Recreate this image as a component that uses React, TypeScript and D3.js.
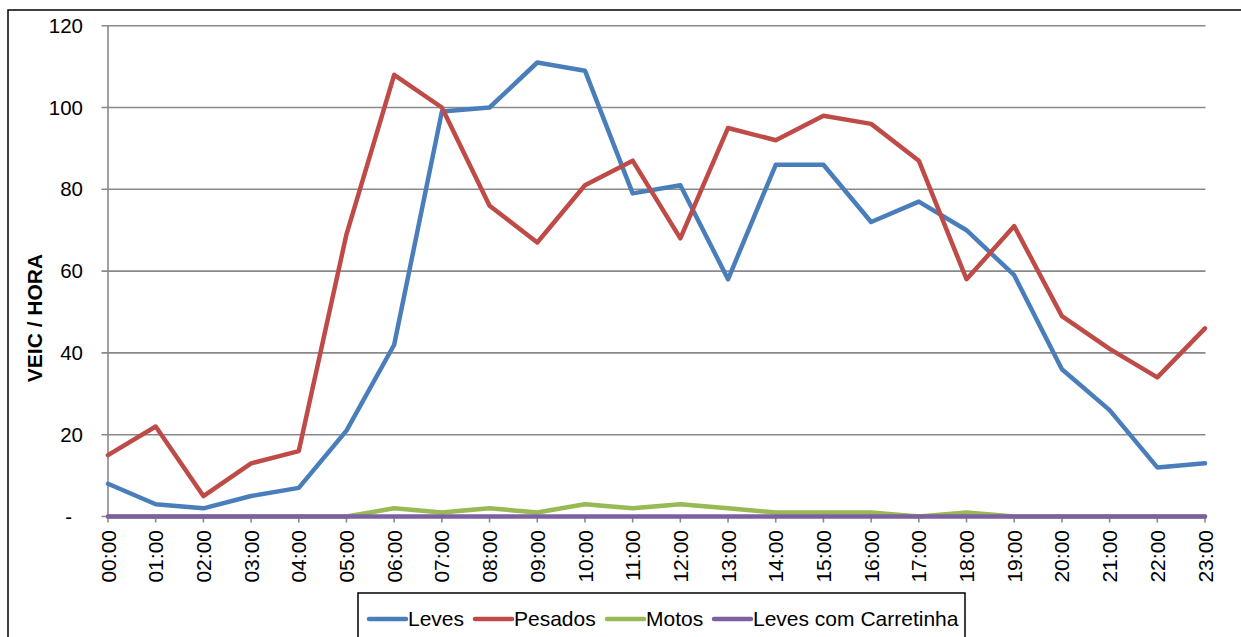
import React from 'react';
import * as d3 from 'd3';

// hourly counts
const hours = ['00:00', '01:00', '02:00', '03:00', '04:00', '05:00', '06:00', '07:00', '08:00', '09:00', '10:00', '11:00',
  '12:00', '13:00', '14:00', '15:00', '16:00', '17:00', '18:00', '19:00', '20:00', '21:00', '22:00', '23:00'];
const leves = [8, 3, 2, 5, 7, 21, 42, 99, 100, 111, 109, 79, 81, 58, 86, 86, 72, 77, 70, 59, 36, 26, 12, 13];
const pesados = [15, 22, 5, 13, 16, 69, 108, 100, 76, 67, 81, 87, 68, 95, 92, 98, 96, 87, 58, 71, 49, 41, 34, 46];
const motos = [0, 0, 0, 0, 0, 0, 2, 1, 2, 1, 3, 2, 3, 2, 1, 1, 1, 0, 1, 0, 0, 0, 0, 0];
const carretinha = [0, 0, 0, 0, 0, 0, 0, 0, 0, 0, 0, 0, 0, 0, 0, 0, 0, 0, 0, 0, 0, 0, 0, 0];
const yTicks = [0, 20, 40, 60, 80, 100, 120];

const series = [
  { name: 'Leves', values: leves, color: '#4a7ebb' },
  { name: 'Pesados', values: pesados, color: '#be4b48' },
  { name: 'Motos', values: motos, color: '#98b954' },
  { name: 'Leves com Carretinha', values: carretinha, color: '#7d60a0' },
];

const W = 1241;
const H = 637;
const FONT = '"Liberation Sans", Arial, sans-serif';
const GRID = '#898989';

export default function App() {
  const x = d3.scalePoint<string>().domain(hours).range([108, 1205]);
  const y = d3.scaleLinear().domain([0, 120]).range([516.5, 25.7]);

  const line = d3.line<number>()
    .x((_, i) => x(hours[i]) as number)
    .y(d => y(d));

  // legend item offsets (layout only)
  const legendX = [369, 475, 607, 714];

  return (
    <svg width={W} height={H} style={{ position: 'absolute', left: 0, top: 0, background: '#fff' }} fontFamily={FONT}>
      <rect x={8} y={10} width={W + 10} height={H + 10} fill="#fff" stroke="#000" strokeWidth={1.5} />

      {/* gridlines + y labels */}
      {yTicks.map(t => (
        <g key={t}>
          {t > 0 && <line x1={101.5} x2={1205.5} y1={y(t)} y2={y(t)} stroke={GRID} strokeWidth={1.6} />}
          <text x={t === 0 ? 72 : 83} y={y(t)} dy="0.35em" textAnchor="end" fontSize={20.5} fill="#000">
            {t === 0 ? '-' : t}
          </text>
        </g>
      ))}

      {/* axes */}
      <line x1={108} x2={108} y1={y(120)} y2={y(0)} stroke={GRID} strokeWidth={1.6} />
      <line x1={101.5} x2={1205.5} y1={y(0)} y2={y(0)} stroke={GRID} strokeWidth={1.6} />
      {hours.map(h => (
        <g key={h}>
          <line x1={x(h)} x2={x(h)} y1={y(0)} y2={y(0) + 6} stroke={GRID} strokeWidth={1.6} />
          <text transform={`translate(${x(h)},530) rotate(-90)`} dy="0.36em" textAnchor="end" fontSize={21} fill="#000">{h}</text>
        </g>
      ))}

      <text transform="translate(35,318) rotate(-90)" dy="0.35em" textAnchor="middle" fontSize={21} fontWeight="bold" fill="#000">
        VEIC / HORA
      </text>

      {/* series */}
      {series.map(s => (
        <path key={s.name} d={line(s.values) || ''} fill="none" stroke={s.color} strokeWidth={4.5}
          strokeLinejoin="round" strokeLinecap="round" />
      ))}

      {/* legend */}
      <rect x={358} y={593} width={607} height={60} fill="#fff" stroke="#000" strokeWidth={1.5} />
      {series.map((s, i) => (
        <g key={s.name} transform={`translate(${legendX[i]},619)`}>
          <line x1={0} x2={37} y1={0} y2={0} stroke={s.color} strokeWidth={4.5} strokeLinecap="round" />
          <text x={39} y={0} dy="0.35em" fontSize={21} fill="#000">{s.name}</text>
        </g>
      ))}
    </svg>
  );
}
